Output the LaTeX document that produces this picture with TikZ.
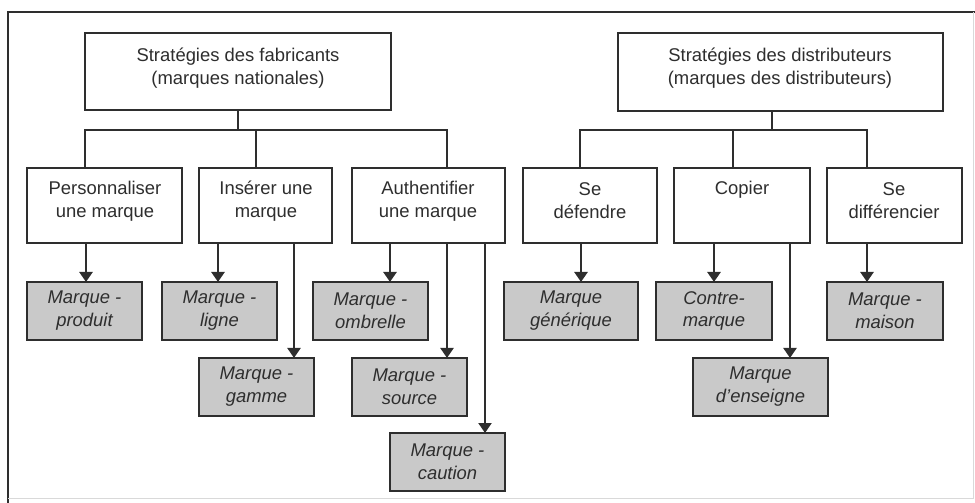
\documentclass[tikz,border=0pt]{standalone}
\usepackage{fontspec}
\setmainfont{Liberation Sans}
\usetikzlibrary{arrows.meta}
\definecolor{ink}{HTML}{2E2E2E}
\definecolor{boxgray}{HTML}{C9C9C9}
\begin{document}
\begin{tikzpicture}[x=1bp,y=-1bp,
  font=\fontsize{18.5}{23}\selectfont,
  txt/.style={text=ink,align=center,inner sep=0},
  frame/.style={draw=ink,line width=2bp,fill=white,anchor=north west,inner sep=0,outer sep=0},
  leaf/.style={draw=ink,line width=2bp,fill=boxgray,anchor=north west,inner sep=0,outer sep=0,
    minimum width=115bp,minimum height=58bp,align=center,text=ink,font=\fontsize{18.5}{23}\selectfont\itshape},
  bus/.style={draw=ink,line width=1.9bp},
  arr/.style={draw=ink,line width=2.8bp,-{Triangle[width=13bp,length=10bp]}},
  arrlong/.style={draw=ink,line width=2.2bp,-{Triangle[width=13bp,length=10bp]}}]
\useasboundingbox (0,0) rectangle (975,503);
% page frame
\draw[ink,line width=1.5bp] (8,503) -- (8,12) -- (975,12);
\draw[black!15,line width=1bp] (8,498) -- (973,498) -- (973,12);

% top level
\node[frame,minimum width=306bp,minimum height=77bp] (L) at (85,33) {};
\node[txt] (Lt) at (238,68.5) {Stratégies des fabricants\\(marques nationales)};
\node[frame,minimum width=325bp,minimum height=78bp] (R) at (618,33) {};
\node[txt] (Rt) at (780,68.5) {Stratégies des distributeurs\\(marques des distributeurs)};

% second level
\node[frame,minimum width=155bp,minimum height=75bp] (c1) at (27,168) {};
\node[frame,minimum width=133bp,minimum height=75bp] (c2) at (199,168) {};
\node[frame,minimum width=153bp,minimum height=75bp] (c3) at (352,168) {};
\node[frame,minimum width=134bp,minimum height=75bp] (c4) at (523,168) {};
\node[frame,minimum width=136bp,minimum height=75bp] (c5) at (674,168) {};
\node[frame,minimum width=135bp,minimum height=75bp] (c6) at (827,168) {};
\node[txt] (t1) at (105,201) {Personnaliser\\une marque};
\node[txt] (t2) at (266,201) {Insérer une\\marque};
\node[txt] (t3) at (428,201) {Authentifier\\une marque};
\node[txt] (t4) at (590,201) {Se\\défendre};
\node[txt] (t5) at (742,190) {Copier};
\node[txt] (t6) at (894,201) {Se\\différencier};

% leaves
\node[leaf] (g1) at (27,282) {Marque -\\produit};
\node[leaf] (g2) at (162,282) {Marque -\\ligne};
\node[leaf] (g3) at (313,282) {Marque -\\ombrelle};
\node[leaf] (g4) at (199,358) {Marque -\\gamme};
\node[leaf] (g5) at (352,358) {Marque -\\source};
\node[leaf] (g6) at (390,433) {Marque -\\caution};
\node[leaf,minimum width=134bp] (g7) at (504,282) {Marque\\générique};
\node[leaf,minimum width=116bp] (g8) at (656,282) {Contre-\\marque};
\node[leaf,minimum width=116bp] (g9) at (827,282) {Marque -\\maison};
\node[leaf,minimum width=135bp] (g10) at (693,358) {Marque\\d'enseigne};

% buses
\coordinate (busL) at (238,130);
\coordinate (busR) at (772,130);
\draw[bus] (L.south -| busL) -- (busL);
\draw[bus] ([xshift=58bp]c1.north west) |- (busL) -| ([xshift=95bp]c3.north west);
\draw[bus] ([xshift=57bp]c2.north west) -- ([xshift=57bp]c2.north west |- busL);
\draw[bus] (R.south -| busR) -- (busR);
\draw[bus] ([xshift=57bp]c4.north west) |- (busR) -| ([xshift=40bp]c6.north west);
\draw[bus] ([xshift=59bp]c5.north west) -- ([xshift=59bp]c5.north west |- busR);

% arrows to leaves
\path ([xshift=59bp]c1.south west) coordinate (s1)
      ([xshift=19bp]c2.south west) coordinate (s2)
      ([xshift=95bp]c2.south west) coordinate (s4)
      ([xshift=38bp]c3.south west) coordinate (s3)
      ([xshift=95bp]c3.south west) coordinate (s5)
      ([xshift=133bp]c3.south west) coordinate (s6)
      ([xshift=58bp]c4.south west) coordinate (s7)
      ([xshift=40bp]c5.south west) coordinate (s8)
      ([xshift=116bp]c5.south west) coordinate (s10)
      ([xshift=40bp]c6.south west) coordinate (s9);
\draw[arr] (s1) -- (s1 |- g1.north);
\draw[arr] (s2) -- (s2 |- g2.north);
\draw[arr] (s3) -- (s3 |- g3.north);
\draw[arrlong] (s4) -- (s4 |- g4.north);
\draw[arrlong] (s5) -- (s5 |- g5.north);
\draw[arrlong] (s6) -- (s6 |- g6.north);
\draw[arr] (s7) -- (s7 |- g7.north);
\draw[arr] (s8) -- (s8 |- g8.north);
\draw[arrlong] (s10) -- (s10 |- g10.north);
\draw[arr] (s9) -- (s9 |- g9.north);
\end{tikzpicture}
\end{document}
